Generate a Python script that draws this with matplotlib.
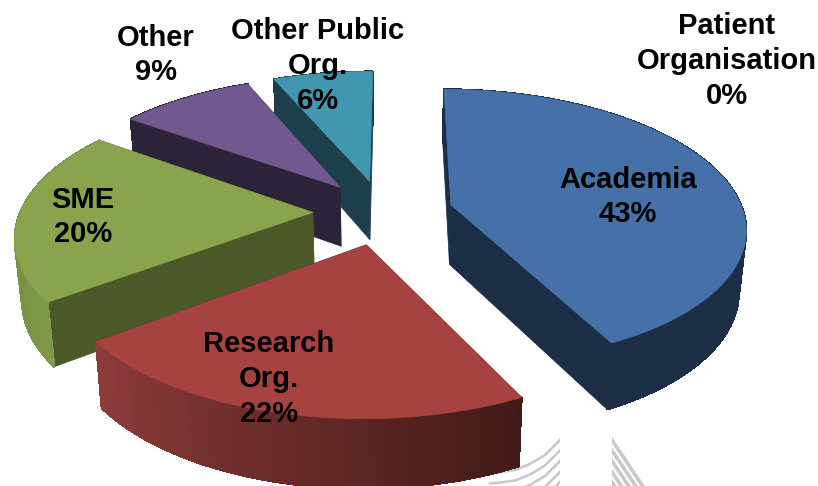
import numpy as np
import matplotlib
matplotlib.use('Agg')
import matplotlib.pyplot as plt
from matplotlib.colors import to_rgb
from matplotlib.patches import Rectangle

plt.rcParams['font.family'] = ['Liberation Sans', 'DejaVu Sans']

# data, in pie order (clockwise from the top)
categories = ['Academia', 'Research\nOrg.', 'SME', 'Other', 'Other Public\nOrg.', 'Patient\nOrganisation']
percent_labels = ['43%', '22%', '20%', '9%', '6%', '0%']
# slice sizes as measured on the picture
shares = [42.5, 22.1, 20.1, 8.75, 6.5, 0]

top_colors = ['#4570A8', '#A64341', '#89A44D', '#71588F', '#4197AF', '#DB843D']
side_colors = ['#1B2E46', '#421A17', '#4B5929', '#2D2338', '#1C3F4B', '#DB843D']
wall_start = ['#1B2E46', '#411A17', '#7E9847', '#2D2338', '#1C3F4B', '#DB843D']
wall_end = ['#1B2E46', '#8E3C3A', '#6F873F', '#2D2338', '#1C3F4B', '#DB843D']

label_pos = [(628, 197), (269, 379), (83, 217), (156, 55), (318, 66), (727, 61)]

# fake 3d projection of the pie
CX, CY = 383, 212
A, B = 292.5, 135.5
K = 0.155
DEPTH = 60
SHRINK = 0.98
EXPLODE = 0.24
ROTATION = 0.5


def project(x, y, bottom=False):
    s = 1 / (1 + K * y)
    if bottom:
        return CX + SHRINK * A * x * s, CY - SHRINK * B * y * s + DEPTH * s
    return CX + A * x * s, CY - B * y * s


def mix(c1, c2, t):
    c1, c2 = np.array(to_rgb(c1)), np.array(to_rgb(c2))
    return tuple(c1 + (c2 - c1) * t)


def draw_slice(ax, a0, a1, i):
    mid = np.radians((a0 + a1) / 2)
    x0 = EXPLODE * np.sin(mid)
    y0 = EXPLODE * np.cos(mid)
    ang = np.radians(np.linspace(a0, a1, 90))
    x = x0 + np.sin(ang)
    y = y0 + np.cos(ang)

    tx, ty = project(x, y)
    bx, by = project(x, y, True)
    ax0, ay0 = project(x0, y0)
    bx0, by0 = project(x0, y0, True)

    side = side_colors[i]
    # radial faces
    ax.fill([ax0, tx[0], bx[0], bx0], [ay0, ty[0], by[0], by0], color=side, lw=0.5)
    ax.fill([ax0, tx[-1], bx[-1], bx0], [ay0, ty[-1], by[-1], by0], color=side, lw=0.5)
    # outer wall, little strips so it can have a gradient
    for k in range(len(ang) - 1):
        c = mix(wall_start[i], wall_end[i], k / (len(ang) - 2))
        ax.fill([tx[k], tx[k + 1], bx[k + 1], bx[k]], [ty[k], ty[k + 1], by[k + 1], by[k]],
                color=c, lw=0.8, antialiased=False)
    # top
    ax.fill(np.r_[ax0, tx], np.r_[ay0, ty], color=top_colors[i], lw=0.5)


fig = plt.figure(figsize=(8.18, 4.86), dpi=100)
ax = fig.add_axes([0, 0, 1, 1])
ax.set_xlim(0, 818)
ax.set_ylim(486, 0)
ax.axis('off')

# grey stray lines under the pie
clip_left = Rectangle((480, 430), 80, 60, transform=ax.transData)
clip_right = Rectangle((612, 430), 60, 60, transform=ax.transData)
for off in [0, 10.5, 21, 32, 42]:
    cx = np.array([490, 500, 515, 530, 545, 560, 570])
    cy = np.array([473, 472, 470, 464, 455, 440, 428]) + off
    line, = ax.plot(cx, cy, color='#C6CACA', lw=1.9, zorder=1)
    line.set_clip_path(clip_left)
    line, = ax.plot([600, 645], [422 + off, 489.5 + off], color='#C6CACA', lw=2.6, zorder=1)
    line.set_clip_path(clip_right)

edges = ROTATION + np.cumsum([0] + shares) * 3.6
for i in [4, 3, 2, 0, 1]:
    draw_slice(ax, edges[i], edges[i + 1], i)

for i, name in enumerate(categories):
    ax.text(label_pos[i][0], label_pos[i][1], name + '\n' + percent_labels[i],
            ha='center', va='center', fontsize=21, fontweight='bold',
            color='black', linespacing=1.3, zorder=10)

fig.savefig('out.png', dpi=100)
